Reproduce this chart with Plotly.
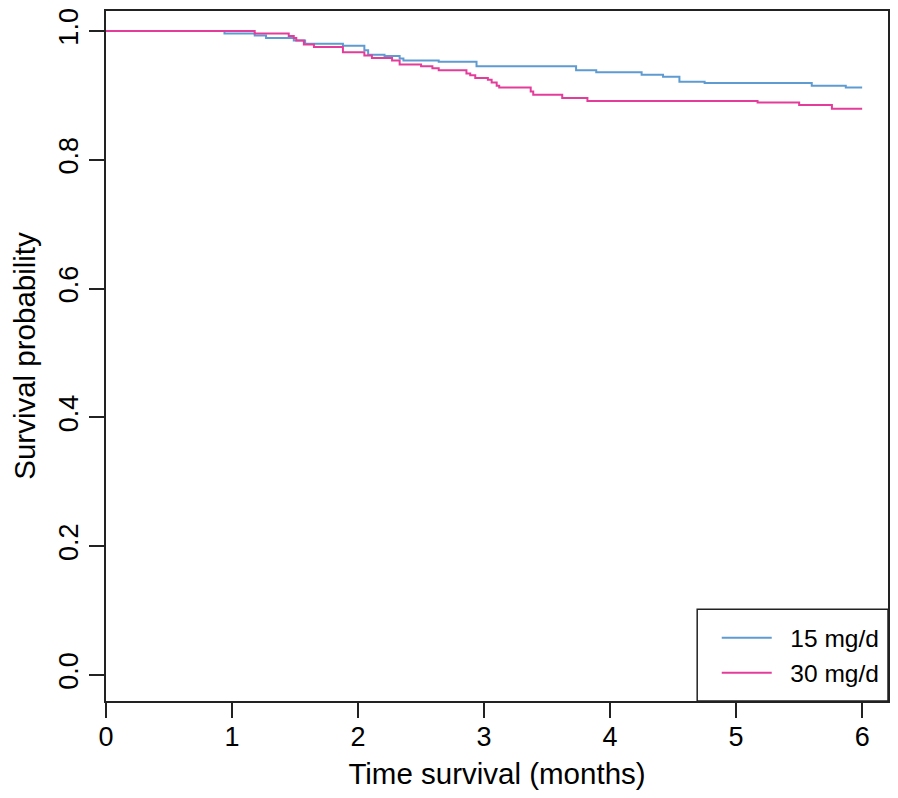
import plotly.graph_objects as go

# Kaplan-Meier step data
t_15 = [0, 0.94, 1.18, 1.27, 1.49, 1.58, 1.88, 2.05, 2.08, 2.21, 2.33, 2.36, 2.64, 2.94,
        3.73, 3.89, 4.25, 4.42, 4.55, 4.75, 5.60, 5.87, 6.0]
s_15 = [1.0, 0.996, 0.993, 0.989, 0.985, 0.980, 0.977, 0.970, 0.963, 0.961, 0.957, 0.954,
        0.952, 0.945, 0.939, 0.936, 0.932, 0.929, 0.921, 0.919, 0.915, 0.912, 0.912]

t_30 = [0, 1.18, 1.45, 1.49, 1.51, 1.57, 1.65, 1.88, 2.05, 2.11, 2.27, 2.33, 2.50, 2.59,
        2.64, 2.86, 2.89, 2.93, 3.03, 3.06, 3.10, 3.12, 3.37, 3.39, 3.62, 3.82, 5.17,
        5.50, 5.76, 6.0]
s_30 = [1.0, 0.996, 0.992, 0.989, 0.985, 0.979, 0.975, 0.967, 0.962, 0.958, 0.954, 0.948,
        0.945, 0.942, 0.939, 0.934, 0.931, 0.927, 0.924, 0.920, 0.915, 0.912, 0.906,
        0.901, 0.896, 0.891, 0.889, 0.885, 0.879, 0.879]

series_names = ["15 mg/d", "30 mg/d"]
series_colors = ["#5E9BD1", "#E43C9A"]

x_ticks = [0, 1, 2, 3, 4, 5, 6]
y_ticks = [0.0, 0.2, 0.4, 0.6, 0.8, 1.0]
y_tick_labels = ["0.0", "0.2", "0.4", "0.6", "0.8", "1.0"]

FONT = "Liberation Sans, Arial, sans-serif"
GAP = "\u00a0\u00a0"  # visual gap between legend line and text

fig = go.Figure()
for t, s, name, col in [(t_15, s_15, series_names[0], series_colors[0]),
                        (t_30, s_30, series_names[1], series_colors[1])]:
    fig.add_trace(go.Scatter(x=t, y=s, mode="lines", name=GAP + name,
                             line=dict(color=col, width=2, shape="hv")))

# legend frame (bottom-right box, like R's legend)
fig.add_shape(type="rect", xref="paper", yref="paper",
              x0=0.756, x1=1.0, y0=0.0, y1=0.1328,
              line=dict(color="#222222", width=1.5), fillcolor="rgba(0,0,0,0)")

fig.update_layout(
    width=882, height=782,
    margin=dict(l=95, r=0, t=0, b=89),
    paper_bgcolor="white", plot_bgcolor="white",
    font=dict(family=FONT, color="black", size=27),
    showlegend=True,
    legend=dict(x=0.781, y=0.124, xanchor="left", yanchor="top",
                bgcolor="rgba(0,0,0,0)", borderwidth=0,
                font=dict(size=24.5, family=FONT, color="black"),
                tracegroupgap=0, itemwidth=50),
    xaxis=dict(range=[0, 6.205], tickvals=x_ticks, ticks="outside", ticklen=15,
               tickwidth=1.5, tickcolor="#222222", showgrid=False, zeroline=False,
               showline=True, linecolor="#222222", linewidth=1.5, mirror=True,
               tickfont=dict(size=27), ticklabelstandoff=-4,
               title=dict(text="Time survival (months)", font=dict(size=29.5), standoff=13)),
    yaxis=dict(range=[-0.0402, 1.0309], tickvals=y_ticks, ticktext=y_tick_labels,
               ticks="outside", ticklen=15, tickwidth=1.5, tickcolor="#222222",
               tickangle=-90, showgrid=False, zeroline=False, ticklabeloverflow="allow",
               showline=True, linecolor="#222222", linewidth=1.5, mirror=True,
               tickfont=dict(size=27),
               title=dict(text="Survival probability", font=dict(size=29.5), standoff=26)),
)

fig.write_html("out.html")
